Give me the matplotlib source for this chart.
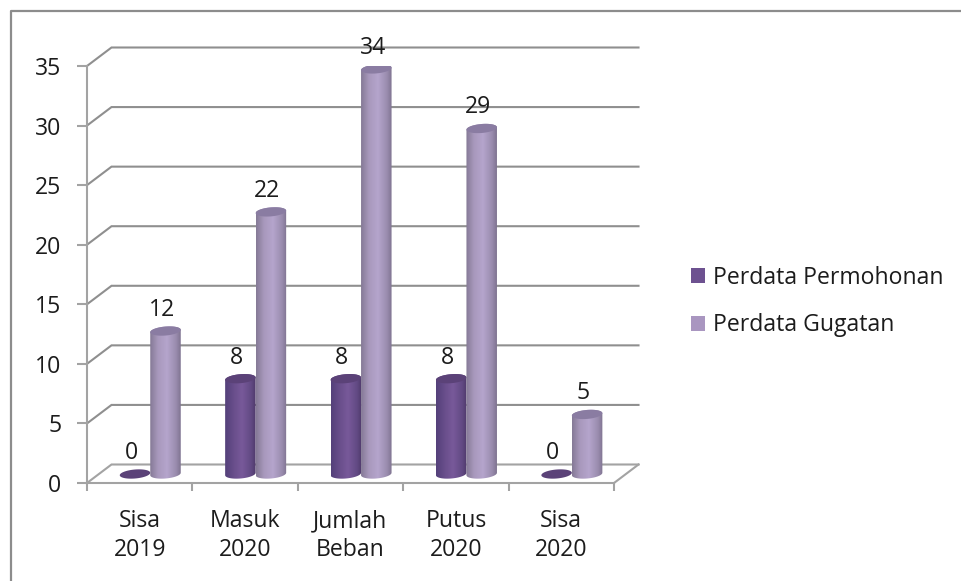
import numpy as np
import matplotlib
matplotlib.use("Agg")
import matplotlib.pyplot as plt
from matplotlib.colors import LinearSegmentedColormap
from matplotlib.lines import Line2D
from matplotlib.patches import Patch, Polygon

categories = ["Sisa\n2019", "Masuk\n2020", "Jumlah\nBeban", "Putus\n2020", "Sisa\n2020"]
perdata_permohonan = [0, 8, 8, 8, 0]
perdata_gugatan = [12, 22, 34, 29, 5]
series_names = ["Perdata Permohonan", "Perdata Gugatan"]
y_ticks = [0, 5, 10, 15, 20, 25, 30, 35]

W, H = 961, 581
plt.rcParams["font.family"] = ["Open Sans", "DejaVu Sans"]
FS = 16.6
TXT = "#1c1c1c"
GRID = "#8f8f8f"
AXC = "#a3a3a3"

fig = plt.figure(figsize=(W / 100, H / 100), dpi=100, facecolor="white")
L, R, B, T = 87, 614, 483, 66
ax = fig.add_axes([L / W, 1 - B / H, (R - L) / W, (B - T) / H])
ax.set_facecolor("none")
ax.set_xlim(0, 5)
ax.set_ylim(0, 35)
px = (R - L) / 5
py = (B - T) / 35
DX, DY = 24.5 / px, 18.5 / py

# outer frame of the chart
fig.add_artist(Line2D([10.5 / W, 10.5 / W, 1], [0, 1 - 10.5 / H, 1 - 10.5 / H],
                      color="#8c8c8c", lw=1.6, transform=fig.transFigure))

# back wall, side wall and floor
for v in y_ticks:
    ax.plot([0, DX, 5 + DX], [v, v + DY, v + DY], color=AXC if v == 0 else GRID,
            lw=1.5, clip_on=False, zorder=1, solid_joinstyle="miter")
ax.plot([5, 5 + DX], [0, DY], color=AXC, lw=1.5, clip_on=False, zorder=1)

for s in ("top", "right"):
    ax.spines[s].set_visible(False)
for s in ("left", "bottom"):
    ax.spines[s].set_color(AXC)
    ax.spines[s].set_linewidth(1.5)
ax.set_yticks(y_ticks)
ax.set_xticks(np.arange(6))
ax.set_xticklabels([])
ax.set_xticks(np.arange(5) + 0.5, categories, minor=True, linespacing=1.28)
ax.tick_params(axis="x", which="major", length=6, width=1.5, color=AXC)
ax.tick_params(axis="x", which="minor", length=0, pad=19, labelsize=FS, labelcolor=TXT)
ax.tick_params(axis="y", length=7, width=1.5, color=AXC, pad=11.5, labelsize=FS, labelcolor=TXT)

BASE = 9 / py
A, Bb, K = 15.25 / px, 4.5 / py, 0.08 * (1 / py) * px


def ell(cx, cy, t):
    return np.column_stack([cx + A * np.cos(t), cy + Bb * np.sin(t) + K * A * np.cos(t)])


def cylinder(cx, v, stops, top_col, z):
    y = BASE + v
    if v == 0:
        ax.add_patch(Polygon(ell(cx, y, np.linspace(0, 2 * np.pi, 60)), fc=top_col, ec="none", zorder=z))
        return
    lower = ell(cx, BASE, np.linspace(np.pi, 2 * np.pi, 40))
    upper = ell(cx, y, np.linspace(0, np.pi, 40))
    body = Polygon(np.vstack([lower, upper]), fc="none", ec="none", zorder=z)
    ax.add_patch(body)
    cmap = LinearSegmentedColormap.from_list("c", stops)
    im = ax.imshow(np.linspace(0, 1, 64)[None, :], cmap=cmap, aspect="auto", zorder=z,
                   extent=[cx - A, cx + A, BASE - Bb * 2, y + Bb * 2], interpolation="bilinear")
    im.set_clip_path(body)
    ax.add_patch(Polygon(ell(cx, y, np.linspace(0, 2 * np.pi, 60)), fc=top_col, ec="none", zorder=z + 0.1))


dark_stops = [(0, "#54407a"), (0.3, "#6a4f8c"), (0.55, "#78599a"), (0.85, "#624a84"), (1, "#4f3a6b")]
light_stops = [(0, "#857a96"), (0.25, "#a898bc"), (0.55, "#b5a5cc"), (0.85, "#9a8cae"), (1, "#7f7491")]
OFF_D, OFF_L = -4.7 / px, 25.8 / px

for i, (a, b) in enumerate(zip(perdata_permohonan, perdata_gugatan)):
    xd, xl = i + 0.5 + OFF_D, i + 0.5 + OFF_L
    cylinder(xd, a, dark_stops, "#5b4278", 3 + i)
    cylinder(xl, b, light_stops, "#8a7ca2", 3.5 + i)
    for xx, v in ((xd - 4 / px, a), (xl - 3.5 / px, b)):
        ax.annotate(str(v), (xx, BASE + v), xytext=(0, 21 * 0.72), textcoords="offset points",
                    ha="center", va="center", fontsize=FS, color=TXT, zorder=20, annotation_clip=False)

ax.set_xlim(0, 5)
ax.set_ylim(0, 35)

handles = [Patch(fc="#6d5190", ec="none"), Patch(fc="#a996c0", ec="none")]
fig.legend(handles, series_names, loc="center left", bbox_to_anchor=(691 / W, 1 - 301.5 / H),
           frameon=False, fontsize=FS, labelcolor=TXT, handlelength=0.62, handleheight=0.62,
           handletextpad=0.35, labelspacing=1.04, borderpad=0, borderaxespad=0)

fig.savefig("out.png", dpi=100)
